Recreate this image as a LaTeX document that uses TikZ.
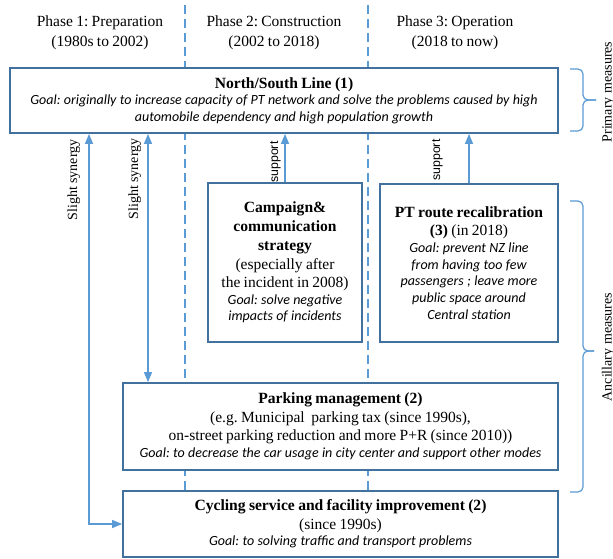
\documentclass[tikz,border=0pt]{standalone}
\usepackage{fontspec}
\setmainfont{Liberation Serif}
\setsansfont{Liberation Sans}
\newfontfamily\goalfont[WordSpace=0.7]{Carlito}
\usetikzlibrary{arrows.meta}
\definecolor{boxblue}{HTML}{41719C}
\definecolor{linkblue}{HTML}{5B9BD5}
\frenchspacing

% text lines used inside the measure boxes
\newcommand\headline[1]{{\fontsize{15.6}{19}\selectfont\bfseries #1\par}}
\newcommand\plainline[1]{{\fontsize{15.5}{18.5}\selectfont #1\par}}
\newcommand\goalline[1]{{\goalfont\itshape\fontsize{14}{16.7}\selectfont #1\par}}
\newcommand\phasetext[1]{{\fontsize{15.5}{20}\selectfont #1\par}}

\begin{document}
\begin{tikzpicture}[x=1pt,y=-1pt,
  measure/.style={draw=boxblue, line width=1.8pt, fill=white, inner sep=0pt,
    align=center},
  phase/.style={text width=170pt, align=center, inner sep=0pt},
  divider/.style={draw=linkblue, line width=1.5pt, dash pattern=on 9pt off 5pt},
  link/.style={draw=linkblue, line width=1.3pt},
  tips/.style={-{Triangle[length=10pt,width=8pt]}},
  bothtips/.style={{Triangle[length=10pt,width=8pt]}-{Triangle[length=10pt,width=8pt]}},
  vlabel/.style={rotate=90, anchor=base, inner sep=0pt, font=\fontsize{14}{16}\selectfont},
  smalllabel/.style={rotate=90, anchor=base, inner sep=0pt, font=\sffamily\fontsize{12.3}{14}\selectfont},
  sidelabel/.style={rotate=90, anchor=base, inner sep=0pt, font=\fontsize{14}{16}\selectfont},
  brace/.style={draw=linkblue, line width=1.2pt, rounded corners=5pt}
]
\fill[white] (0,0) rectangle (613,558);
\useasboundingbox (0,0) rectangle (613,558);

% phase headings and the dashed phase dividers
\node[phase] (p1) at (100,33) {\phasetext{Phase 1: Preparation\\(1980s to 2002)}};
\node[phase] (p2) at (274,33) {\phasetext{Phase 2: Construction\\(2002 to 2018)}};
\node[phase] (p3) at (455,33) {\phasetext{Phase 3: Operation\\(2018 to now)}};
\draw[divider] (185,5) -- (185,558);
\draw[divider] (368,5) -- (368,558);

% measure boxes
\node[measure, minimum width=548pt, minimum height=65pt, text width=544pt] (ns) at (284,100.5)
  {\headline{North/South Line (1)}%
   \goalline{Goal: originally to increase capacity of PT network and solve the problems caused by high\\
   automobile dependency and high population growth}};
\node[measure, minimum width=154pt, minimum height=159pt, text width=150pt] (camp) at (285,262.5)
  {\headline{Campaign\&\\communication\\strategy}%
   \plainline{(especially after\\the incident in 2008)}%
   \goalline{Goal: solve negative\\impacts of incidents}};
\node[measure, minimum width=178pt, minimum height=158pt, text width=174pt] (ptr) at (469,263)
  {\headline{PT route recalibration}%
   \plainline{\textbf{(3)} (in 2018)}%
   \goalline{Goal: prevent NZ line\\from having too few\\passengers ; leave more\\public space around\\Central station}};
\node[measure, minimum width=435pt, minimum height=87pt, text width=431pt] (park) at (340.5,426.5)
  {\headline{Parking management (2)}%
   \plainline{(e.g. Municipal\ \ parking tax (since 1990s),\\on-street parking reduction and more P+R (since 2010))}%
   \goalline{Goal: to decrease the car usage in city center and support other modes}};
\node[measure, minimum width=435pt, minimum height=66pt, text width=431pt] (cyc) at (340.5,524)
  {\headline{Cycling service and facility improvement (2)}%
   \plainline{(since 1990s)}%
   \goalline{Goal: to solving traffic and transport problems}};

% synergy and support links
\coordinate (s1) at (89,524);
\coordinate (s2) at (148,300);
\draw[link, bothtips] (s1 |- ns.south) -- (s1) -- (cyc.west |- s1);
\draw[link, bothtips] (s2 |- ns.south) -- (s2 |- park.north);
\draw[link, tips] (camp.north) -- (camp.north |- ns.south);
\draw[link, tips] (ptr.north) -- (ptr.north |- ns.south);

\node[vlabel] (syn1) at (77,180) {Slight synergy};
\node[vlabel] (syn2) at (138,179) {Slight synergy};
\node[smalllabel] (sup1) at (278,162) {support};
\node[smalllabel] (sup2) at (440,160) {support};

% braces grouping primary and ancillary measures
\draw[brace] (570,69) -| (583,100) -- (596,100);
\draw[brace] (570,131) -| (583,100) -- (596,100);
\draw[brace] (570,201) -| (583,351) -- (594,351);
\draw[brace] (570,492) -| (583,351) -- (594,351);
\node[sidelabel] (prim) at (611.5,92) {Primary measures};
\node[sidelabel] (anc) at (611.5,347) {Ancillary measures};
\end{tikzpicture}
\end{document}
